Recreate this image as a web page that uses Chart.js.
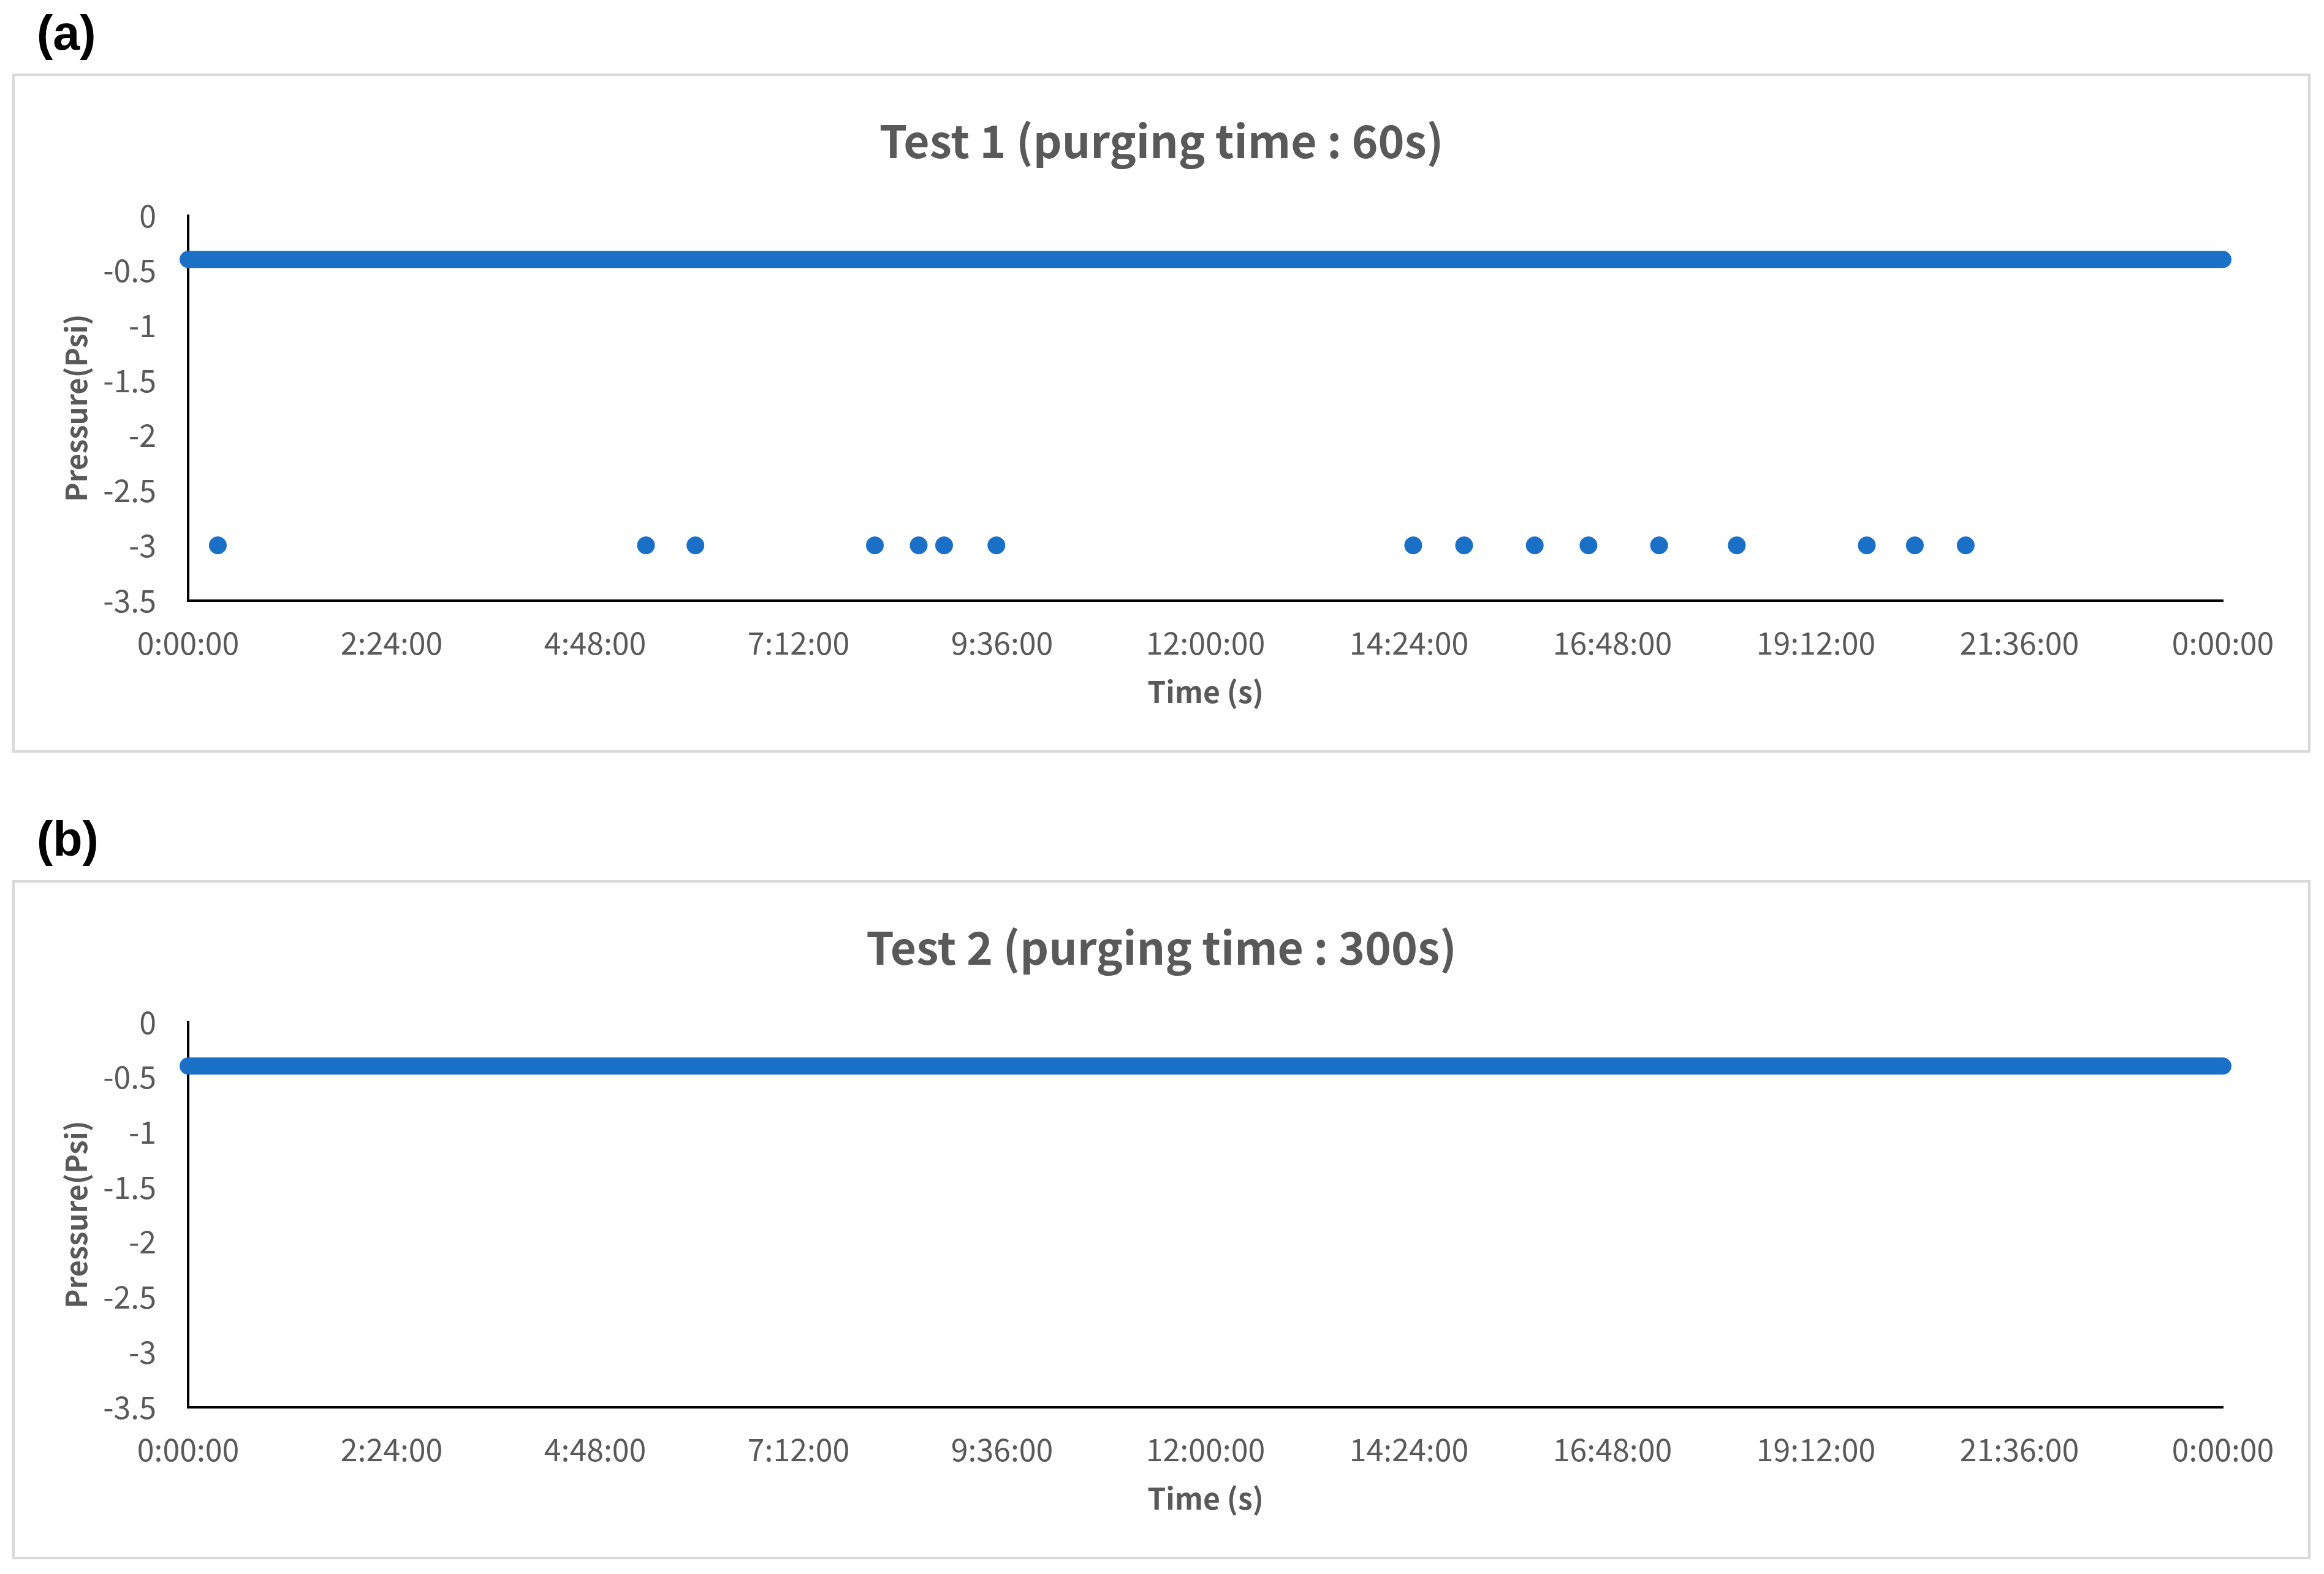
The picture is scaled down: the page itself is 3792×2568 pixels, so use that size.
<!DOCTYPE html>
<html>
<head>
<meta charset="utf-8">
<script src="https://cdn.jsdelivr.net/npm/chart.js@4.4.1/dist/chart.umd.min.js"></script>
<style>
  html, body { margin: 0; padding: 0; background: #ffffff; }
  body { width: 3792px; height: 2568px; position: relative; overflow: hidden; }
  .panel { position: absolute; left: 20px; width: 3750px; height: 1108px;
           border: 4px solid #d9d9d9; box-sizing: border-box; background: #fff; }
  .panel canvas { display: block; width: 3742px; height: 1100px; }
  .tag { position: absolute; font: bold 79px 'Liberation Sans', Arial, sans-serif;
         line-height: 79px; color: #000; }
</style>
</head>
<body>
<div class="tag" style="left:60px; top:14px;">(a)</div>
<div class="panel" style="top:120px;"><canvas id="c1" width="3742" height="1100"></canvas></div>
<div class="tag" style="left:60px; top:1329px;">(b)</div>
<div class="panel" style="top:1436px;"><canvas id="c2" width="3742" height="1100"></canvas></div>
<script>
// ---------------- data ----------------
const xTickLabels = ['0:00:00','2:24:00','4:48:00','7:12:00','9:36:00','12:00:00',
                     '14:24:00','16:48:00','19:12:00','21:36:00','0:00:00'];
const yTickLabels = ['-3.5','-3','-2.5','-2','-1.5','-1','-0.5','0'];

// steady reading (drawn as a dense run of points from start to end of the test)
const baselineTimes = ['0:00', '24:00'];
const baselinePressure = [-0.4, -0.4];

// Test 1 (purging time 60 s): drop-out readings
const test1Times = ['0:21','5:24','5:59','8:06','8:37','8:55','9:32',
                    '14:27','15:03','15:53','16:31','17:21','18:16',
                    '19:48','20:22','20:58'];
const test1Pressure = [-3,-3,-3,-3,-3,-3,-3,-3,-3,-3,-3,-3,-3,-3,-3,-3];

// Test 2 (purging time 300 s): no drop-outs
const test2Times = [];
const test2Pressure = [];

const titles = ['Test 1 (purging time : 60s)', 'Test 2 (purging time : 300s)'];

// ---------------- helpers ----------------
function toSeconds(s) { const p = s.split(':').map(Number); return p[0] * 3600 + p[1] * 60; }
function pts(times, vals) { return times.map((t, i) => ({ x: toSeconds(t), y: vals[i] })); }

const FONT = "'Noto Sans CJK KR', 'Noto Sans', sans-serif";
const GRAY = '#595959';
const BLUE = '#1a6fc6';

function makeChart(id, title, times, vals) {
  new Chart(document.getElementById(id), {
    type: 'scatter',
    data: {
      datasets: [
        { data: pts(baselineTimes, baselinePressure), showLine: true,
          borderColor: BLUE, borderWidth: 28, borderCapStyle: 'round',
          pointRadius: 0, clip: false, order: 2 },
        { data: pts(times, vals), showLine: false,
          backgroundColor: BLUE, borderWidth: 0, pointRadius: 14.5,
          clip: false, order: 1 }
      ]
    },
    options: {
      responsive: false,
      animation: false,
      devicePixelRatio: 1,
      layout: { padding: 0 },
      plugins: {
        legend: { display: false },
        tooltip: { enabled: false },
        title: { display: true, text: title, color: GRAY,
                 font: { family: FONT, size: 73, weight: 'bold', lineHeight: 1.2 },
                 padding: { top: 62, bottom: 78 } }
      },
      scales: {
        x: {
          type: 'linear', position: 'bottom', min: 0, max: 86400,
          grid: { display: false, drawTicks: false },
          border: { display: true, color: '#000', width: 4 },
          ticks: { stepSize: 8640, autoSkip: false, maxRotation: 0, color: GRAY,
                   padding: 39.5, font: { family: FONT, size: 50 },
                   callback: (v, i) => xTickLabels[i] },
          title: { display: true, text: 'Time (s)', color: GRAY,
                   font: { family: FONT, size: 48, weight: 'bold', lineHeight: 1.2 },
                   padding: { top: 0, bottom: 66 } },
          afterFit: (s) => { s.height = 244.5; }
        },
        y: {
          type: 'linear', position: 'left', min: -3.5, max: 0,
          grid: { display: false, drawTicks: false },
          border: { display: true, color: '#000', width: 4 },
          ticks: { stepSize: 0.5, color: GRAY, padding: 52,
                   font: { family: FONT, size: 50 },
                   callback: (v, i) => yTickLabels[i] },
          title: { display: true, text: 'Pressure(Psi)', color: GRAY,
                   font: { family: FONT, size: 47, weight: 'bold', lineHeight: 1.2 },
                   padding: { top: 72, bottom: 0 } },
          afterFit: (s) => { s.width = 283; }
        },
        yr: {
          type: 'linear', position: 'right', axis: 'y',
          grid: { display: false, drawTicks: false },
          border: { display: false },
          ticks: { display: false },
          afterFit: (s) => { s.width = 139; }
        }
      }
    }
  });
}

makeChart('c1', titles[0], test1Times, test1Pressure);
makeChart('c2', titles[1], test2Times, test2Pressure);
</script>
</body>
</html>
